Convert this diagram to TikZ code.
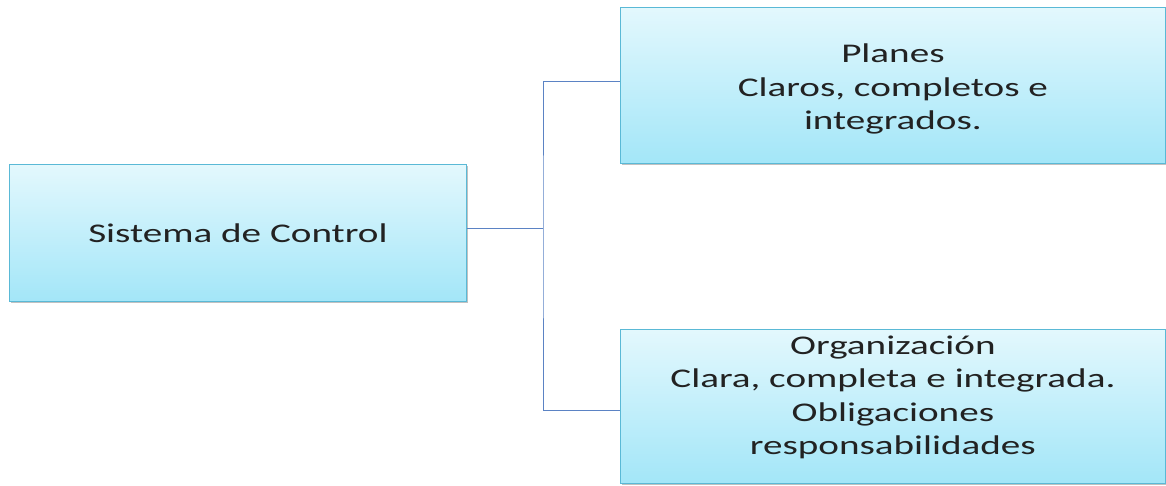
\documentclass[tikz,border=0pt]{standalone}
\usepackage{fontspec}
\setmainfont{Carlito}[FakeStretch=1.45]
\usetikzlibrary{shadows}
\definecolor{boxtop}{HTML}{E3F8FD}
\definecolor{boxbot}{HTML}{A3E6F8}
\definecolor{boxline}{HTML}{5AB9D6}
\definecolor{linkc}{HTML}{5B83C4}
\definecolor{txt}{HTML}{222222}
\tikzset{
  box/.style={draw=boxline, line width=0.8pt, top color=boxtop, bottom color=boxbot,
    inner sep=0pt,
    drop shadow={shadow xshift=1.5pt, shadow yshift=-2pt, fill=gray!70, opacity=0.7}},
  label text/.style={align=center, text=txt, font=\fontsize{27}{33.5}\selectfont, inner sep=0pt},
  link/.style={draw=linkc, line width=1pt}
}
\begin{document}
\begin{tikzpicture}[x=1pt,y=-1pt]
\useasboundingbox (0,0) rectangle (1166,485);
\node[box, minimum width=457pt, minimum height=137pt, anchor=north west] (sc) at (9,164) {};
\node[box, minimum width=545pt, minimum height=156pt, anchor=north west] (pl) at (620,7) {};
\node[box, minimum width=545pt, minimum height=154pt, anchor=north west] (org) at (620,329) {};
\node[label text] (sct) at (sc.center) {Sistema de Control};
\node[label text] (plt) at ([yshift=-4pt]pl.center) {Planes\\Claros, completos e\\integrados.};
\node[label text] (orgt) at ([yshift=9pt]org.center) {Organización\\Clara, completa e integrada.\\Obligaciones\\responsabilidades};
\coordinate (j) at (543,228);
\draw[link] (sc.east |- j) -- (j);
\draw[link] (pl.west |- 0,81) -| (j) |- (org.west |- 0,410);
\end{tikzpicture}
\end{document}
